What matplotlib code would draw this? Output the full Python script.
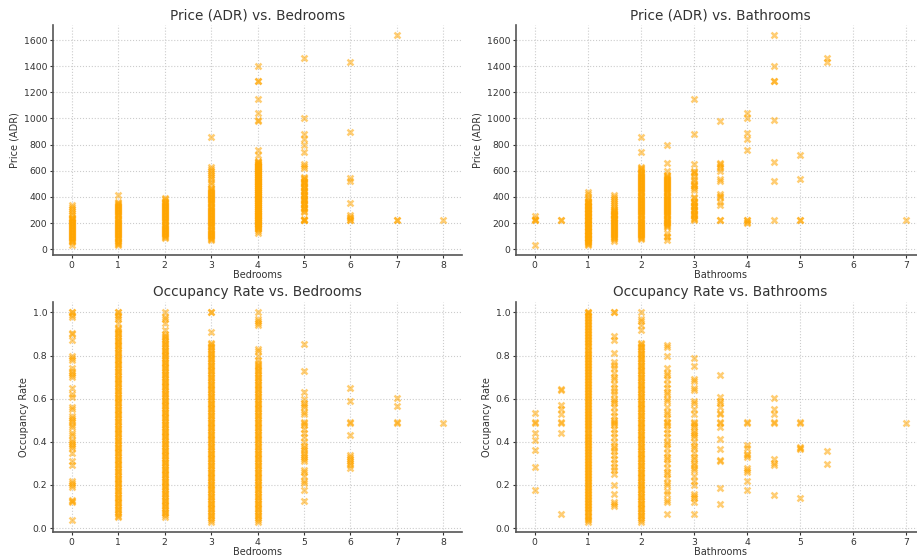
import numpy as np
import matplotlib
matplotlib.use("Agg")
import matplotlib.pyplot as plt

# values, grouped by x category
bedroom_price = {
    0: [35, 58, 65, 72, 80, 88, 95, 100, 108, 115, 122, 130, 138, 145, 152, 160, 168, 175, 182, 190,
        198, 205, 212, 220, 228, 235, 242, 260, 275, 290, 310, 325, 340],
    1: [35, 42, 50, 58, 66, 74, 82, 90, 98, 106, 114, 122, 130, 138, 146, 154, 162, 170, 178, 186,
        194, 202, 210, 218, 226, 234, 242, 250, 258, 266, 274, 282, 290, 298, 306, 314, 322, 330,
        338, 346, 354, 362, 415],
    2: [85, 92, 100, 108, 116, 124, 132, 140, 148, 156, 164, 172, 180, 188, 196, 204, 212, 220, 228,
        236, 244, 252, 260, 268, 276, 284, 292, 300, 308, 316, 324, 332, 340, 348, 356, 364, 372,
        380, 390],
    3: [70, 78, 86, 94, 102, 110, 118, 126, 134, 142, 150, 158, 166, 174, 182, 190, 198, 206, 214,
        222, 230, 238, 246, 254, 262, 270, 278, 286, 294, 302, 310, 318, 326, 334, 342, 350, 358,
        366, 374, 382, 390, 398, 406, 414, 422, 430, 438, 446, 454, 462, 470, 495, 515, 535, 550,
        565, 580, 600, 615, 630, 860],
    4: [120, 140, 155, 160, 165, 170, 175, 180, 185, 190, 195, 200, 205, 210, 215, 220, 225, 230,
        235, 240, 245, 250, 255, 260, 265, 270, 275, 280, 285, 290, 295, 300, 305, 310, 315, 320,
        325, 330, 335, 340, 345, 350, 355, 360, 365, 370, 375, 380, 385, 390, 395, 400, 405, 410,
        415, 420, 425, 430, 435, 440, 445, 450, 455, 460, 465, 470, 475, 480, 485, 490, 495, 500,
        505, 510, 515, 520, 525, 530, 535, 540, 545, 550, 555, 560, 565, 570, 575, 580, 585, 590,
        595, 600, 605, 610, 615, 620, 625, 630, 635, 640, 645, 650, 655, 660, 665, 670, 675, 720,
        760, 980, 990, 1045, 1150, 1285, 1290, 1400],
    5: [220, 222, 225, 228, 285, 295, 305, 315, 325, 335, 345, 355, 365, 375, 385, 395, 405, 415,
        425, 435, 445, 455, 465, 475, 485, 495, 505, 515, 525, 535, 545, 555, 620, 640, 655, 740,
        800, 840, 880, 1000, 1460],
    6: [220, 224, 235, 245, 260, 350, 520, 545, 895, 1435],
    7: [220, 222, 1635],
    8: [220],
}

bathroom_price = {
    0: [35, 220, 225, 230, 250],
    0.5: [220, 222],
    1: [35, 40, 46, 52, 58, 64, 70, 76, 82, 88, 94, 100, 106, 112, 118, 124, 130, 136, 142, 148,
        154, 160, 166, 172, 178, 184, 190, 196, 202, 208, 214, 220, 226, 232, 238, 244, 250, 256,
        262, 268, 274, 280, 286, 292, 298, 304, 310, 316, 322, 328, 334, 340, 346, 352, 358, 364,
        370, 385, 400, 420, 440],
    1.5: [65, 75, 85, 95, 100, 108, 115, 122, 130, 138, 145, 152, 160, 168, 175, 182, 190, 198,
          205, 212, 220, 228, 235, 242, 250, 258, 265, 272, 280, 288, 295, 302, 310, 320, 335, 350,
          365, 380, 400, 415],
    2: [75, 82, 90, 98, 106, 114, 122, 130, 138, 146, 154, 162, 170, 178, 186, 194, 202, 210, 218,
        226, 234, 242, 250, 258, 266, 274, 282, 290, 298, 306, 314, 322, 330, 338, 346, 354, 362,
        370, 378, 386, 394, 402, 410, 418, 426, 434, 442, 450, 458, 466, 474, 482, 490, 498, 506,
        514, 522, 530, 538, 546, 554, 562, 570, 578, 586, 594, 602, 610, 618, 626, 740, 860],
    2.5: [70, 90, 100, 120, 170, 178, 186, 194, 202, 210, 218, 226, 234, 242, 250, 258, 266, 274,
          282, 290, 298, 306, 314, 322, 330, 338, 346, 354, 362, 370, 378, 386, 394, 402, 410, 418,
          426, 434, 442, 450, 458, 466, 474, 482, 490, 498, 506, 514, 522, 530, 538, 546, 554, 562,
          570, 600, 660, 800],
    3: [220, 230, 240, 250, 260, 270, 280, 290, 300, 310, 320, 330, 340, 350, 360, 370, 390, 400,
        450, 470, 480, 490, 500, 520, 540, 560, 580, 590, 600, 650, 880, 1150],
    3.5: [220, 225, 340, 360, 400, 410, 420, 520, 540, 600, 620, 640, 650, 660, 980],
    4: [200, 210, 220, 225, 760, 840, 890, 1000, 1045],
    4.5: [220, 520, 665, 990, 1285, 1290, 1400, 1635],
    5: [220, 225, 540, 720],
    5.5: [1435, 1460],
    7: [220],
}

bedroom_occ = {
    0: [0.035, 0.12, 0.125, 0.13, 0.19, 0.2, 0.21, 0.22, 0.29, 0.31, 0.35, 0.37, 0.38, 0.39, 0.40,
        0.41, 0.43, 0.44, 0.47, 0.48, 0.49, 0.50, 0.51, 0.52, 0.55, 0.56, 0.61, 0.62, 0.65, 0.70,
        0.71, 0.72, 0.73, 0.74, 0.78, 0.79, 0.80, 0.87, 0.90, 0.905, 0.98, 0.99, 1.0, 1.0],
    1: [0.050, 0.058, 0.066, 0.074, 0.082, 0.090, 0.098, 0.106, 0.114, 0.122, 0.130, 0.138, 0.146,
        0.154, 0.162, 0.170, 0.178, 0.186, 0.194, 0.202, 0.210, 0.218, 0.226, 0.234, 0.242, 0.250,
        0.258, 0.266, 0.274, 0.282, 0.290, 0.298, 0.306, 0.314, 0.322, 0.330, 0.338, 0.346, 0.354,
        0.362, 0.370, 0.378, 0.386, 0.394, 0.402, 0.410, 0.418, 0.426, 0.434, 0.442, 0.450, 0.458,
        0.466, 0.474, 0.482, 0.490, 0.498, 0.506, 0.514, 0.522, 0.530, 0.538, 0.546, 0.554, 0.562,
        0.570, 0.578, 0.586, 0.594, 0.602, 0.610, 0.618, 0.626, 0.634, 0.642, 0.650, 0.658, 0.666,
        0.674, 0.682, 0.690, 0.698, 0.706, 0.714, 0.722, 0.730, 0.738, 0.746, 0.754, 0.762, 0.770,
        0.778, 0.786, 0.794, 0.802, 0.810, 0.818, 0.826, 0.834, 0.842, 0.850, 0.858, 0.866, 0.874,
        0.882, 0.890, 0.898, 0.906, 0.914, 0.922, 0.930, 0.95, 0.97, 0.98, 0.99, 1.0, 1.0],
    2: [0.052, 0.060, 0.068, 0.076, 0.084, 0.092, 0.100, 0.108, 0.116, 0.124, 0.132, 0.140, 0.148,
        0.156, 0.164, 0.172, 0.180, 0.188, 0.196, 0.204, 0.212, 0.220, 0.228, 0.236, 0.244, 0.252,
        0.260, 0.268, 0.276, 0.284, 0.292, 0.300, 0.308, 0.316, 0.324, 0.332, 0.340, 0.348, 0.356,
        0.364, 0.372, 0.380, 0.388, 0.396, 0.404, 0.412, 0.420, 0.428, 0.436, 0.444, 0.452, 0.460,
        0.468, 0.476, 0.484, 0.492, 0.500, 0.508, 0.516, 0.524, 0.532, 0.540, 0.548, 0.556, 0.564,
        0.572, 0.580, 0.588, 0.596, 0.604, 0.612, 0.620, 0.628, 0.636, 0.644, 0.652, 0.660, 0.668,
        0.676, 0.684, 0.692, 0.700, 0.708, 0.716, 0.724, 0.732, 0.740, 0.748, 0.756, 0.764, 0.772,
        0.780, 0.788, 0.796, 0.804, 0.812, 0.820, 0.828, 0.836, 0.844, 0.852, 0.860, 0.868, 0.876,
        0.884, 0.892, 0.900, 0.92, 0.95, 0.97, 0.98, 1.0],
    3: [0.030, 0.038, 0.046, 0.054, 0.062, 0.070, 0.078, 0.086, 0.094, 0.102, 0.110, 0.118, 0.126,
        0.134, 0.142, 0.150, 0.158, 0.166, 0.174, 0.182, 0.190, 0.198, 0.206, 0.214, 0.222, 0.230,
        0.238, 0.246, 0.254, 0.262, 0.270, 0.278, 0.286, 0.294, 0.302, 0.310, 0.318, 0.326, 0.334,
        0.342, 0.350, 0.358, 0.366, 0.374, 0.382, 0.390, 0.398, 0.406, 0.414, 0.422, 0.430, 0.438,
        0.446, 0.454, 0.462, 0.470, 0.478, 0.486, 0.494, 0.502, 0.510, 0.518, 0.526, 0.534, 0.542,
        0.550, 0.558, 0.566, 0.574, 0.582, 0.590, 0.598, 0.606, 0.614, 0.622, 0.630, 0.638, 0.646,
        0.654, 0.662, 0.670, 0.678, 0.686, 0.694, 0.702, 0.710, 0.718, 0.726, 0.734, 0.742, 0.750,
        0.758, 0.766, 0.774, 0.782, 0.790, 0.798, 0.806, 0.814, 0.822, 0.830, 0.838, 0.846, 0.854,
        0.860, 0.91, 1.0, 1.0],
    4: [0.030, 0.038, 0.046, 0.054, 0.062, 0.070, 0.078, 0.086, 0.094, 0.102, 0.110, 0.118, 0.126,
        0.134, 0.142, 0.150, 0.158, 0.166, 0.174, 0.182, 0.190, 0.198, 0.206, 0.214, 0.222, 0.230,
        0.238, 0.246, 0.254, 0.262, 0.270, 0.278, 0.286, 0.294, 0.302, 0.310, 0.318, 0.326, 0.334,
        0.342, 0.350, 0.358, 0.366, 0.374, 0.382, 0.390, 0.398, 0.406, 0.414, 0.422, 0.430, 0.438,
        0.446, 0.454, 0.462, 0.470, 0.478, 0.486, 0.494, 0.502, 0.510, 0.518, 0.526, 0.534, 0.542,
        0.550, 0.558, 0.566, 0.574, 0.582, 0.590, 0.598, 0.606, 0.614, 0.622, 0.630, 0.638, 0.646,
        0.654, 0.662, 0.670, 0.678, 0.686, 0.694, 0.702, 0.710, 0.718, 0.726, 0.734, 0.742, 0.750,
        0.758, 0.766, 0.78, 0.80, 0.82, 0.83, 0.94, 0.95, 0.96, 0.97, 1.0],
    5: [0.125, 0.175, 0.21, 0.22, 0.24, 0.26, 0.27, 0.31, 0.32, 0.33, 0.34, 0.35, 0.36, 0.37, 0.38,
        0.40, 0.42, 0.44, 0.46, 0.48, 0.485, 0.49, 0.53, 0.54, 0.56, 0.57, 0.58, 0.60, 0.63, 0.73,
        0.855],
    6: [0.28, 0.29, 0.30, 0.31, 0.32, 0.33, 0.34, 0.43, 0.485, 0.49, 0.59, 0.65],
    7: [0.485, 0.49, 0.565, 0.605],
    8: [0.485],
}

bathroom_occ = {
    0: [0.175, 0.285, 0.36, 0.41, 0.44, 0.485, 0.49, 0.535],
    0.5: [0.065, 0.44, 0.485, 0.49, 0.53, 0.55, 0.57, 0.64, 0.645],
    1: [0.030, 0.037, 0.044, 0.051, 0.058, 0.065, 0.072, 0.079, 0.086, 0.093, 0.100, 0.107, 0.114,
        0.121, 0.128, 0.135, 0.142, 0.149, 0.156, 0.163, 0.170, 0.177, 0.184, 0.191, 0.198, 0.205,
        0.212, 0.219, 0.226, 0.233, 0.240, 0.247, 0.254, 0.261, 0.268, 0.275, 0.282, 0.289, 0.296,
        0.303, 0.310, 0.317, 0.324, 0.331, 0.338, 0.345, 0.352, 0.359, 0.366, 0.373, 0.380, 0.387,
        0.394, 0.401, 0.408, 0.415, 0.422, 0.429, 0.436, 0.443, 0.450, 0.457, 0.464, 0.471, 0.478,
        0.485, 0.492, 0.499, 0.506, 0.513, 0.520, 0.527, 0.534, 0.541, 0.548, 0.555, 0.562, 0.569,
        0.576, 0.583, 0.590, 0.597, 0.604, 0.611, 0.618, 0.625, 0.632, 0.639, 0.646, 0.653, 0.660,
        0.667, 0.674, 0.681, 0.688, 0.695, 0.702, 0.709, 0.716, 0.723, 0.730, 0.737, 0.744, 0.751,
        0.758, 0.765, 0.772, 0.779, 0.786, 0.793, 0.800, 0.807, 0.814, 0.821, 0.828, 0.835, 0.842,
        0.849, 0.856, 0.863, 0.870, 0.877, 0.884, 0.891, 0.898, 0.905, 0.912, 0.919, 0.926, 0.933,
        0.940, 0.947, 0.954, 0.961, 0.968, 0.975, 0.982, 0.989, 0.996, 1.0, 1.0],
    1.5: [0.10, 0.11, 0.12, 0.16, 0.20, 0.25, 0.27, 0.285, 0.30, 0.32, 0.34, 0.355, 0.37, 0.38,
          0.40, 0.42, 0.44, 0.46, 0.48, 0.485, 0.49, 0.50, 0.52, 0.54, 0.56, 0.58, 0.59, 0.60,
          0.62, 0.635, 0.65, 0.67, 0.69, 0.70, 0.72, 0.74, 0.755, 0.77, 0.81, 0.87, 0.89, 1.0, 1.0],
    2: [0.030, 0.038, 0.046, 0.054, 0.062, 0.070, 0.078, 0.086, 0.094, 0.102, 0.110, 0.118, 0.126,
        0.134, 0.142, 0.150, 0.158, 0.166, 0.174, 0.182, 0.190, 0.198, 0.206, 0.214, 0.222, 0.230,
        0.238, 0.246, 0.254, 0.262, 0.270, 0.278, 0.286, 0.294, 0.302, 0.310, 0.318, 0.326, 0.334,
        0.342, 0.350, 0.358, 0.366, 0.374, 0.382, 0.390, 0.398, 0.406, 0.414, 0.422, 0.430, 0.438,
        0.446, 0.454, 0.462, 0.470, 0.478, 0.486, 0.494, 0.502, 0.510, 0.518, 0.526, 0.534, 0.542,
        0.550, 0.558, 0.566, 0.574, 0.582, 0.590, 0.598, 0.606, 0.614, 0.622, 0.630, 0.638, 0.646,
        0.654, 0.662, 0.670, 0.678, 0.686, 0.694, 0.702, 0.710, 0.718, 0.726, 0.734, 0.742, 0.750,
        0.758, 0.766, 0.774, 0.782, 0.790, 0.798, 0.806, 0.814, 0.822, 0.830, 0.838, 0.846, 0.854,
        0.860, 0.92, 0.94, 0.96, 0.97, 1.0],
    2.5: [0.065, 0.12, 0.13, 0.16, 0.17, 0.20, 0.21, 0.23, 0.25, 0.26, 0.28, 0.30, 0.32, 0.33,
          0.35, 0.37, 0.39, 0.40, 0.42, 0.44, 0.46, 0.48, 0.485, 0.49, 0.51, 0.53, 0.54, 0.56,
          0.59, 0.60, 0.62, 0.63, 0.65, 0.67, 0.69, 0.71, 0.72, 0.74, 0.80, 0.84, 0.85],
    3: [0.065, 0.12, 0.14, 0.15, 0.16, 0.20, 0.22, 0.24, 0.27, 0.28, 0.29, 0.30, 0.32, 0.33, 0.35,
        0.37, 0.38, 0.40, 0.42, 0.43, 0.44, 0.45, 0.47, 0.48, 0.485, 0.49, 0.53, 0.55, 0.58, 0.59,
        0.64, 0.65, 0.68, 0.69, 0.75, 0.79],
    3.5: [0.11, 0.185, 0.31, 0.315, 0.365, 0.415, 0.47, 0.485, 0.49, 0.53, 0.535, 0.56, 0.58,
          0.59, 0.61, 0.71],
    4: [0.175, 0.22, 0.26, 0.27, 0.28, 0.33, 0.34, 0.345, 0.37, 0.385, 0.485, 0.49],
    4.5: [0.155, 0.29, 0.30, 0.32, 0.485, 0.49, 0.53, 0.55, 0.605],
    5: [0.14, 0.365, 0.37, 0.375, 0.485, 0.49],
    5.5: [0.295, 0.355],
    7: [0.485],
}

panels = [
    (bedroom_price, "Price (ADR) vs. Bedrooms", "Bedrooms", "Price (ADR)"),
    (bathroom_price, "Price (ADR) vs. Bathrooms", "Bathrooms", "Price (ADR)"),
    (bedroom_occ, "Occupancy Rate vs. Bedrooms", "Bedrooms", "Occupancy Rate"),
    (bathroom_occ, "Occupancy Rate vs. Bathrooms", "Bathrooms", "Occupancy Rate"),
]


def flatten(groups):
    xs, ys = [], []
    for x, vals in groups.items():
        xs.extend([x] * len(vals))
        ys.extend(vals)
    return np.array(xs), np.array(ys)


plt.rcParams.update({'font.family': 'DejaVu Sans'})

fig, axes = plt.subplots(2, 2, figsize=(9.17, 5.56), dpi=100)
fig.subplots_adjust(left=53 / 917, right=925 / 917, top=1 - 25 / 556, bottom=24 / 556,
                    wspace=0.132, hspace=0.204)

for ax, (groups, title, xlabel, ylabel) in zip(axes.flatten(), panels):
    x, y = flatten(groups)
    ax.scatter(x, y, marker='x', color='orange', alpha=0.55, s=18, linewidths=1.8)
    ax.set_title(title, fontsize=9.8, color='#333333', pad=4)
    ax.set_xlabel(xlabel, fontsize=7, color='#333333', labelpad=0.5)
    ax.set_ylabel(ylabel, fontsize=7, color='#333333', labelpad=3)
    ax.tick_params(labelsize=6.7, colors='#333333', length=2.5, width=0.8, pad=1.5)
    ax.grid(True, linestyle=':', color='#cccccc', linewidth=0.8)
    ax.set_axisbelow(True)
    for side in ['top', 'right']:
        ax.spines[side].set_visible(False)
    for side in ['left', 'bottom']:
        ax.spines[side].set_color('#555555')
        ax.spines[side].set_linewidth(1.2)

plt.savefig("out.png", dpi=100)
